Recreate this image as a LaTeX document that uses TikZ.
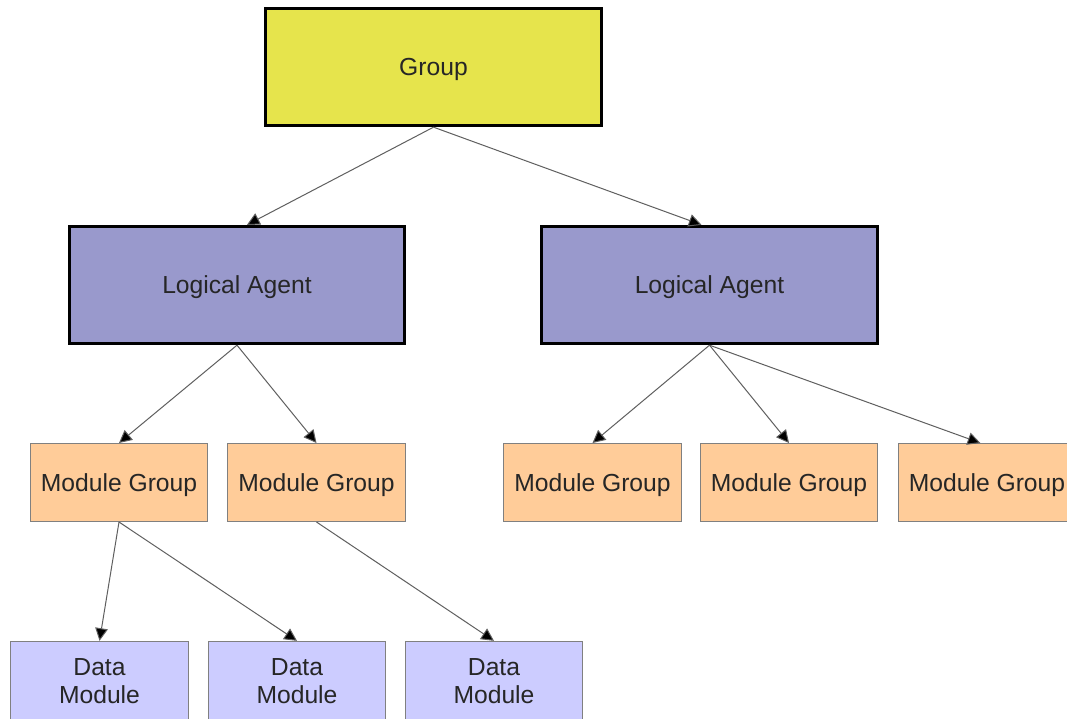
\documentclass[tikz,border=0pt]{standalone}
\usepackage{fontspec}
\setmainfont{Liberation Sans}
\usetikzlibrary{arrows.meta}

\definecolor{groupfill}{RGB}{230,228,76}
\definecolor{agentfill}{RGB}{153,153,204}
\definecolor{modgroupfill}{RGB}{255,204,153}
\definecolor{datafill}{RGB}{204,204,255}
\definecolor{thinedge}{RGB}{128,128,128}
\definecolor{linkgray}{RGB}{95,95,95}
\definecolor{labeltext}{RGB}{38,38,38}

\tikzset{
  boxtext/.style={text=labeltext, font=\fontsize{18.5}{21}\selectfont, align=center, inner sep=0pt},
  bigbox/.style={boxtext, text depth=0pt, draw=black, line width=2.25pt, minimum width=251.5pt, minimum height=88pt},
  smallbox/.style={boxtext, draw=thinedge, line width=0.75pt, minimum width=133pt, minimum height=58.5pt},
  groupbox/.style={bigbox, fill=groupfill},
  agentbox/.style={bigbox, fill=agentfill},
  modgroupbox/.style={smallbox, text depth=0pt, fill=modgroupfill},
  databox/.style={smallbox, fill=datafill, minimum height=59.5pt},
  conn/.style={draw=linkgray, line width=0.75pt, -{Triangle[length=9.5pt,width=9.5pt,fill=black]}}
}

\begin{document}
\begin{tikzpicture}[x=0.75pt, y=-0.75pt]
  \useasboundingbox (0,0) rectangle (1067,718);
  \clip (0,0) rectangle (1067,718);
  \fill[white] (0,0) rectangle (1067,718);

  % top level
  \node[groupbox] (G) at (433.5,67) {Group};

  % logical agents
  \node[agentbox] (LA1) at (237,285) {Logical Agent};
  \node[agentbox] (LA2) at (709.5,285) {Logical Agent};

  % module groups
  \node[modgroupbox] (MG1) at (119,482.5) {Module Group};
  \node[modgroupbox] (MG2) at (316.5,482.5) {Module Group};
  \node[modgroupbox] (MG3) at (592.5,482.5) {Module Group};
  \node[modgroupbox] (MG4) at (789,482.5) {Module Group};
  \node[modgroupbox] (MG5) at (987,482.5) {Module Group};

  % data modules
  \node[databox] (DM1) at (99.5,681) {Data\\Module};
  \node[databox] (DM2) at (297,681) {Data\\Module};
  \node[databox] (DM3) at (494,681) {Data\\Module};

  % connectors
  \draw[conn] (G.south) -- ([xshift=7.5pt]LA1.north);
  \draw[conn] (G.south) -- ([xshift=-6pt]LA2.north);

  \draw[conn] (LA1.south) -- (MG1.north);
  \draw[conn] (LA1.south) -- (MG2.north);

  \draw[conn] (LA2.south) -- (MG3.north);
  \draw[conn] (LA2.south) -- (MG4.north);
  \draw[conn] (LA2.south) -- ([xshift=-5pt]MG5.north);

  \draw[conn] (MG1.south) -- (DM1.north);
  \draw[conn] (MG1.south) -- (DM2.north);
  \draw[conn] (MG2.south) -- (DM3.north);
\end{tikzpicture}
\end{document}
